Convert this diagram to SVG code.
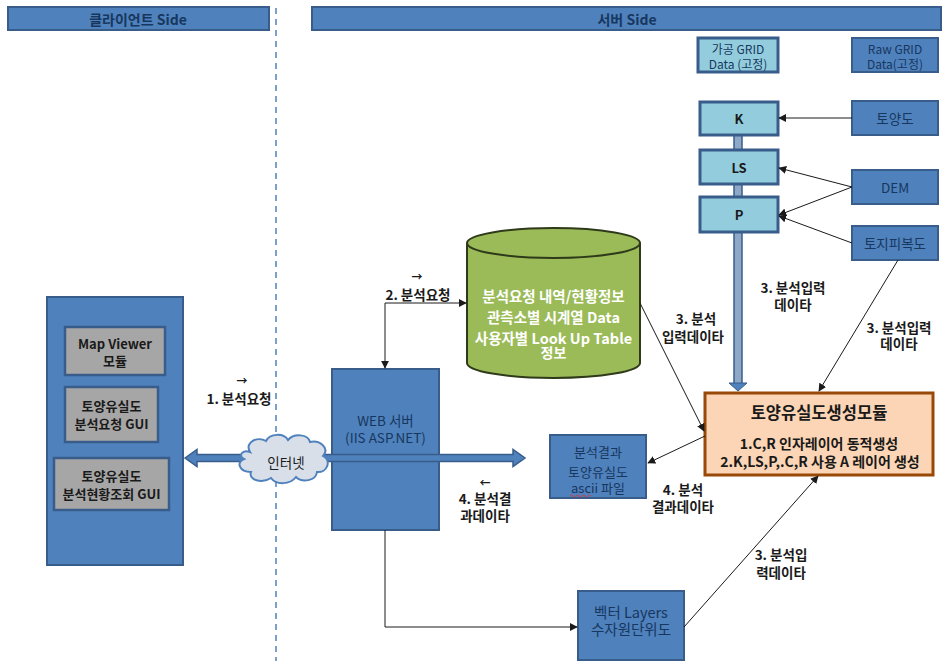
<svg xmlns="http://www.w3.org/2000/svg" width="943" height="661" viewBox="0 0 943 661">
  <style>
    text { font-family: "Noto Sans CJK KR", "Liberation Sans", sans-serif; text-anchor: middle; dominant-baseline: central; }
    .blue { fill: #4f81bd; stroke: #385d8a; stroke-width: 2; }
    .lblue { fill: #93cddd; stroke: #385d8a; stroke-width: 3; }
    .grey { fill: #a6a6a6; stroke: #385d8a; stroke-width: 2.5; }
    .hdr { font-size: 14px; font-weight: bold; fill: #17375e; }
    .btxt { font-size: 13.5px; fill: #17375e; }
    .stxt { font-size: 12px; fill: #17375e; }
    .gtxt { font-size: 13px; font-weight: bold; fill: #1a1a1a; }
    .lbl { font-size: 13.5px; font-weight: bold; fill: #1a1a1a; }
    .wtxt { font-size: 14.5px; font-weight: bold; fill: #ffffff; }
    .conn { fill: none; stroke: #1a1a1a; stroke-width: 1; }
  </style>
  <defs>
    <marker id="ah" viewBox="0 0 10 10" refX="9" refY="5" markerWidth="8" markerHeight="8" markerUnits="userSpaceOnUse" orient="auto-start-reverse">
      <path d="M0,0 L10,5 L0,10 z" fill="#1a1a1a"/>
    </marker>
  </defs>
  <rect width="943" height="661" fill="#ffffff"/>

  <!-- side headers -->
  <g id="client-header">
    <rect class="blue" x="8" y="7" width="261" height="23"/>
    <text class="hdr" x="138" y="19">클라이언트 Side</text>
  </g>
  <g id="server-header">
    <rect class="blue" x="312" y="7" width="629" height="23"/>
    <text class="hdr" x="627" y="19">서버 Side</text>
  </g>
  <line x1="276" y1="8" x2="276" y2="661" stroke="#4f81bd" stroke-width="1.5" stroke-dasharray="6,5"/>

  <!-- vertical feed from K/LS/P down to the generator module -->
  <g id="grid-feed">
    <rect x="734" y="134" width="8" height="250" fill="#8ea9c8" stroke="#385d8a" stroke-width="1.5"/>
    <polygon points="729,383 747,383 738,391" fill="#4f81bd" stroke="#385d8a" stroke-width="1"/>
  </g>

  <!-- data group labels -->
  <g id="grid-processed-label">
    <rect class="lblue" x="698" y="38" width="80" height="34"/>
    <text class="stxt" x="738" y="48">가공 GRID</text>
    <text class="stxt" x="738" y="63">Data (고정)</text>
  </g>
  <g id="grid-raw-label">
    <rect class="blue" x="852" y="38" width="86" height="34" stroke-width="3"/>
    <text class="stxt" x="895" y="48">Raw GRID</text>
    <text class="stxt" x="895" y="63">Data(고정)</text>
  </g>

  <!-- factor layers -->
  <g id="node-k">
    <rect class="lblue" x="700" y="102" width="78" height="33"/>
    <text class="gtxt" x="739" y="118.5">K</text>
  </g>
  <g id="node-ls">
    <rect class="lblue" x="700" y="150" width="78" height="34"/>
    <text class="gtxt" x="739" y="167">LS</text>
  </g>
  <g id="node-p">
    <rect class="lblue" x="700" y="197" width="78" height="35"/>
    <text class="gtxt" x="739" y="214.5">P</text>
  </g>

  <!-- raw sources -->
  <g id="node-soil">
    <rect class="blue" x="852" y="101" width="86" height="34" stroke-width="3"/>
    <text class="btxt" x="895" y="118">토양도</text>
  </g>
  <g id="node-dem">
    <rect class="blue" x="852" y="170" width="86" height="34" stroke-width="3"/>
    <text class="btxt" x="895" y="187">DEM</text>
  </g>
  <g id="node-landcover">
    <rect class="blue" x="852" y="226" width="86" height="34" stroke-width="3"/>
    <text class="btxt" x="895" y="243">토지피복도</text>
  </g>

  <!-- client panel -->
  <g id="client-panel">
    <rect class="blue" x="47" y="297" width="136" height="268" stroke-width="2.5"/>
  </g>
  <g id="node-mapviewer">
    <rect class="grey" x="65" y="327" width="100" height="48"/>
    <text class="gtxt" x="115" y="343">Map Viewer</text>
    <text class="gtxt" x="115" y="360">모듈</text>
  </g>
  <g id="node-request-gui">
    <rect class="grey" x="65" y="387" width="93" height="55"/>
    <text class="gtxt" x="111.5" y="405">토양유실도</text>
    <text class="gtxt" x="111.5" y="423">분석요청 GUI</text>
  </g>
  <g id="node-status-gui">
    <rect class="grey" x="54" y="458" width="115" height="52"/>
    <text class="gtxt" x="111.5" y="475">토양유실도</text>
    <text class="gtxt" x="111.5" y="493">분석현황조회 GUI</text>
  </g>

  <!-- web server -->
  <g id="node-webserver">
    <rect class="blue" x="332" y="369" width="107" height="161"/>
    <text class="btxt" x="385.5" y="420">WEB 서버</text>
    <text class="btxt" x="385.5" y="437">(IIS ASP.NET)</text>
  </g>

  <!-- database -->
  <g id="node-database">
    <path d="M467,243 L467,363 A86.5,15 0 0 0 640,363 L640,243 A86.5,15 0 0 0 467,243 Z" fill="#9bbb59" stroke="#2f3a1a" stroke-width="2"/>
    <path d="M467,243 A86.5,15 0 0 0 640,243" fill="none" stroke="#2f3a1a" stroke-width="2"/>
    <text class="wtxt" x="553.5" y="295">분석요청 내역/현황정보</text>
    <text class="wtxt" x="553.5" y="316">관측소별 시계열 Data</text>
    <text class="wtxt" x="553.5" y="337">사용자별 Look Up Table</text>
    <text class="wtxt" x="553.5" y="352" style="font-size:14px">정보</text>
  </g>

  <!-- result file -->
  <g id="node-result">
    <rect class="blue" x="550" y="435" width="96" height="63" stroke-width="2.5"/>
    <text class="btxt" x="598" y="451" style="font-size:13px">분석결과</text>
    <text class="btxt" x="598" y="471" style="font-size:13px">토양유실도</text>
    <text class="btxt" x="598" y="487" style="font-size:13px">ascii 파일</text>
    <path d="M570,496 q1.5,-2 3,0 t3,0 t3,0 t3,0 t3,0 t3,0 t3,0" fill="none" stroke="#e03030" stroke-width="0.8"/>
  </g>

  <!-- generator module -->
  <g id="node-generator">
    <rect x="705" y="393" width="228" height="82" fill="#fbd5b5" stroke="#984807" stroke-width="3"/>
    <text x="819" y="412" style="font-size:16.5px;font-weight:bold;fill:#1a1a1a">토양유실도생성모듈</text>
    <text class="lbl" x="819" y="443" style="font-size:14px">1.C,R 인자레이어 동적생성</text>
    <text class="lbl" x="820" y="461" style="font-size:14px">2.K,LS,P,.C,R 사용 A 레이어 생성</text>
  </g>

  <!-- vector layers -->
  <g id="node-vector">
    <rect class="blue" x="578" y="591" width="106" height="69"/>
    <text class="btxt" x="631" y="611" style="font-size:14.5px">벡터 Layers</text>
    <text class="btxt" x="631" y="628" style="font-size:14.5px">수자원단위도</text>
  </g>

  <!-- connectors -->
  <g id="connectors">
    <polygon points="185,458 197,449.5 197,454.5 513,454.5 513,449.5 525,458 513,466.5 513,461.5 197,461.5 197,466.5" fill="#4f81bd" stroke="#385d8a" stroke-width="1.5"/>
    <line class="conn" x1="852" y1="118" x2="779" y2="118" marker-end="url(#ah)"/>
    <line class="conn" x1="852" y1="187" x2="779" y2="168" marker-end="url(#ah)"/>
    <line class="conn" x1="852" y1="187" x2="779" y2="215" marker-end="url(#ah)"/>
    <line class="conn" x1="852" y1="243" x2="779" y2="216" marker-end="url(#ah)"/>
    <line class="conn" x1="898" y1="260" x2="819" y2="391" marker-end="url(#ah)"/>
    <line class="conn" x1="640" y1="303" x2="704" y2="431" marker-end="url(#ah)"/>
    <line class="conn" x1="705" y1="436" x2="648" y2="463" marker-end="url(#ah)"/>
    <line class="conn" x1="684" y1="627" x2="818" y2="476" marker-end="url(#ah)"/>
    <polyline class="conn" points="385,530 385,627 577,627" marker-end="url(#ah)"/>
    <polyline class="conn" points="466,303 385,303 385,368" marker-start="url(#ah)" marker-end="url(#ah)"/>
  </g>

  <!-- internet cloud -->
  <g id="node-internet">
    <path d="M250,452 C244,442 258,436 266,441 C270,433 284,433 288,440 C294,433 308,434 310,442 C320,440 330,448 323,456 C332,461 327,473 317,472 C316,481 302,483 296,477 C290,485 276,485 271,478 C262,484 248,480 251,472 C239,472 236,462 244,459 C238,456 242,449 250,452 Z" fill="#d9dfe8" stroke="#4f81bd" stroke-width="2"/>
    <text x="286" y="462" style="font-size:13.5px;fill:#1a1a1a">인터넷</text>
  </g>

  <!-- connector labels -->
  <g id="labels">
    <text class="lbl" x="242" y="380" style="font-size:11px">→</text>
    <text class="lbl" x="239" y="398">1. 분석요청</text>
    <text class="lbl" x="417" y="276" style="font-size:11px">→</text>
    <text class="lbl" x="418" y="294">2. 분석요청</text>
    <text class="lbl" x="485" y="482" style="font-size:11px">←</text>
    <text class="lbl" x="485" y="498">4. 분석결</text>
    <text class="lbl" x="485" y="515">과데이타</text>
    <text class="lbl" x="696" y="318">3. 분석</text>
    <text class="lbl" x="693" y="336">입력데이타</text>
    <text class="lbl" x="793" y="287">3. 분석입력</text>
    <text class="lbl" x="793" y="304">데이타</text>
    <text class="lbl" x="899" y="327">3. 분석입력</text>
    <text class="lbl" x="899" y="343">데이타</text>
    <text class="lbl" x="683" y="489">4. 분석</text>
    <text class="lbl" x="683" y="506">결과데이타</text>
    <text class="lbl" x="781" y="554">3. 분석입</text>
    <text class="lbl" x="781" y="572">력데이타</text>
  </g>
</svg>
